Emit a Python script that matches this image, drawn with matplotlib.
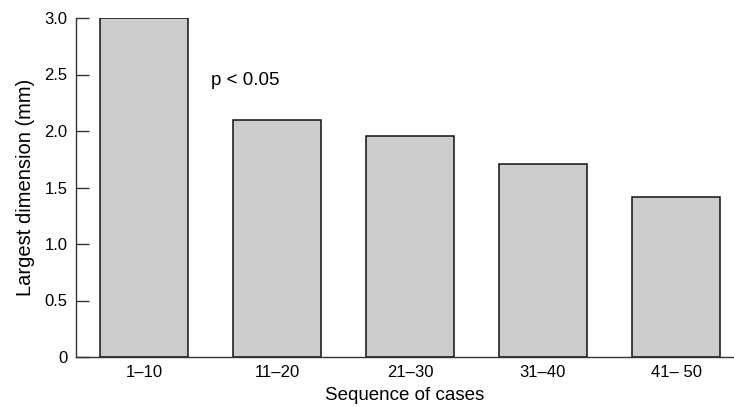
import matplotlib
matplotlib.use("Agg")
import matplotlib.pyplot as plt

categories = ["1\u201310", "11\u201320", "21\u201330", "31\u201340", "41\u2013 50"]
values = [3.0, 2.1, 1.96, 1.71, 1.42]
yticks = [0, 0.5, 1.0, 1.5, 2.0, 2.5, 3.0]
yticklabels = ["0", "0.5", "1.0", "1.5", "2.0", "2.5", "3.0"]

plt.rcParams['font.family'] = ['Liberation Sans', 'DejaVu Sans']

fig = plt.figure(figsize=(7.34, 4.07), dpi=100)
ax = fig.add_axes([76/734, 50/407, 658/734, 339/407])

x = list(range(len(categories)))
ax.bar(x, values, width=0.66, color='#cccccc', edgecolor='#111111', linewidth=1.1)

ax.set_xlim(-0.511, 4.436)
ax.set_ylim(0, 3.0)
ax.set_yticks(yticks)
ax.set_yticklabels(yticklabels)
ax.set_xticks(x)
ax.set_xticklabels(categories)

for s in ['top', 'right']:
    ax.spines[s].set_visible(False)
for s in ['left', 'bottom']:
    ax.spines[s].set_color('#333333')
    ax.spines[s].set_linewidth(1.0)

ax.tick_params(axis='y', direction='in', length=9.6, width=1.0, color='#333333',
               labelsize=12, pad=6)
ax.tick_params(axis='x', length=0, labelsize=12, pad=6)

ax.set_xlabel("Sequence of cases", fontsize=13.5, labelpad=5)
ax.set_ylabel("Largest dimension (mm)", fontsize=14.5, labelpad=7)

ax.text(0.76, 2.45, "p < 0.05", fontsize=13.5, ha='center', va='center')

fig.savefig("out.png", dpi=100)
